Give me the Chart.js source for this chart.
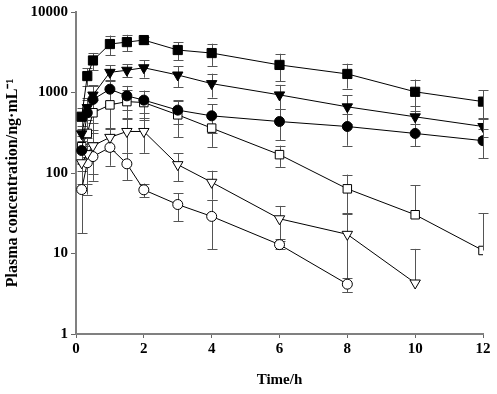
<!DOCTYPE html>
<html>
<head>
<meta charset="utf-8">
<script src="https://cdn.jsdelivr.net/npm/chart.js@4"></script>
<style>
  body { margin: 0; background: #fff; }
  canvas { display: block; }
</style>
</head>
<body>
<canvas id="pk-chart" width="497" height="394"></canvas>
<script>
'use strict';

// sampling times (h)
const times = [0.167, 0.333, 0.5, 1, 1.5, 2, 3, 4, 6, 8, 10, 12];

// mean plasma concentrations (ng/mL), null = not measured / below limit
const filledSquare   = [500, 1600, 2500, 4000, 4230, 4480, 3370, 3090, 2200, 1700, 1020, 770];
const filledTriangle = [307, 650, 930, 1780, 1890, 2030, 1650, 1290, 934, 664, 499, 378];
const filledCircle   = [190, 560, 820, 1100, 908, 804, 604, 513, 436, 378, 310, 252];
const openSquare     = [212, 310, 560, 702, 771, 750, 528, 361, 169, 63.6, 30.3, 10.9];
const openTriangle   = [134, 174, 218, 277, 328, 328, 127, 76.7, 27, 17.3, 4.3, null];
const openCircle     = [62.3, 134, 160, 208, 130, 61.8, 40.6, 28.9, 12.9, 4.16, null, null];

// standard deviations
const filledSquareSd   = [150, 400, 600, 1100, 980, 450, 850, 950, 830, 580, 430, 300];
const filledTriangleSd = [80, 200, 300, 410, 350, 500, 480, 425, 310, 260, 180, 100];
const filledCircleSd   = [60, 250, 400, 350, 300, 250, 200, 200, 180, 160, 95, 100];
const openSquareSd     = [80, 150, 250, 350, 300, 300, 250, 150, 50, 32, 40, 20.5];
const openTriangleSd   = [60, 100, 120, 90, 150, 150, 48, 30, 12, 14, 7.1, null];
const openCircleSd     = [44.5, 80, 80, 85, 48, 12, 15.5, 17.6, 1.5, 0.8, null, null];

const yTicks = [1, 10, 100, 1000, 10000];
const xTicks = [0, 2, 4, 6, 8, 10, 12];

const serif = '"Liberation Serif", "Times New Roman", serif';

let toPoints = (vals) => times.map((t, i) => ({x: t, y: vals[i]})).filter(p => p.y != null);

let makeSet = (vals, sds, style, filled, radius, rotation) => ({
    data: toPoints(vals),
    sd: sds,
    borderColor: '#000',
    borderWidth: 1,
    pointStyle: style,
    pointRadius: radius,
    pointRotation: rotation || 0,
    pointBackgroundColor: filled ? '#000' : '#fff',
    pointBorderColor: '#000',
    pointBorderWidth: 1,
    tension: 0,
    fill: false
});

// draws mean ± SD bars using the chart's own scales
const errorBars = {
    id: 'errorBars',
    beforeDatasetsDraw(chart) {
        const ctx = chart.ctx;
        const xs = chart.scales.x, ys = chart.scales.y;
        const area = chart.chartArea;
        ctx.save();
        ctx.strokeStyle = '#555';
        ctx.lineWidth = 1;
        chart.data.datasets.forEach(ds => {
            ds.data.forEach(p => {
                const sd = ds.sd[times.indexOf(p.x)];
                if (sd == null) return;
                const px = Math.round(xs.getPixelForValue(p.x)) + 0.5;
                const top = Math.max(area.top, ys.getPixelForValue(p.y + sd));
                const lo = p.y - sd;
                const bottom = lo > 0 ? Math.min(area.bottom, ys.getPixelForValue(lo)) : ys.getPixelForValue(p.y);
                ctx.beginPath();
                ctx.moveTo(px, top);
                ctx.lineTo(px, bottom);
                ctx.moveTo(px - 5, Math.round(top) + 0.5);
                ctx.lineTo(px + 5, Math.round(top) + 0.5);
                if (lo > 0) {
                    ctx.moveTo(px - 5, Math.round(bottom) + 0.5);
                    ctx.lineTo(px + 5, Math.round(bottom) + 0.5);
                }
                ctx.stroke();
            });
        });
        ctx.restore();
    }
};

new Chart(document.getElementById('pk-chart'), {
    type: 'line',
    data: {
        datasets: [
            makeSet(filledSquare, filledSquareSd, 'rect', true, 6.5),
            makeSet(filledTriangle, filledTriangleSd, 'triangle', true, 6, 180),
            makeSet(filledCircle, filledCircleSd, 'circle', true, 5),
            makeSet(openSquare, openSquareSd, 'rect', false, 6),
            makeSet(openTriangle, openTriangleSd, 'triangle', false, 6, 180),
            makeSet(openCircle, openCircleSd, 'circle', false, 5)
        ]
    },
    options: {
        responsive: false,
        animation: false,
        devicePixelRatio: 1,
        layout: {
            padding: {top: 11, right: 14, bottom: 0, left: 0}
        },
        scales: {
            x: {
                type: 'linear',
                min: 0,
                max: 12,
                afterBuildTicks: (scale) => { scale.ticks = xTicks.map(v => ({value: v})); },
                afterFit: (scale) => { scale.height = 60; },
                ticks: {
                    color: '#000',
                    padding: 2,
                    font: {family: serif, size: 15, weight: 'bold'}
                },
                grid: {
                    drawOnChartArea: false,
                    drawTicks: true,
                    tickLength: 4,
                    color: '#666'
                },
                border: {color: '#808080', width: 2},
                title: {
                    display: true,
                    text: 'Time/h',
                    color: '#000',
                    padding: {top: 5, bottom: 5},
                    font: {family: serif, size: 15, weight: 'bold'}
                }
            },
            y: {
                type: 'logarithmic',
                min: 1,
                max: 10000,
                afterBuildTicks: (scale) => { scale.ticks = yTicks.map(v => ({value: v})); },
                afterFit: (scale) => { scale.width = 76; },
                ticks: {
                    color: '#000',
                    padding: 3,
                    callback: (v) => String(v),
                    font: {family: serif, size: 15, weight: 'bold'}
                },
                grid: {
                    drawOnChartArea: false,
                    drawTicks: true,
                    tickLength: 5,
                    color: '#666'
                },
                border: {color: '#808080', width: 2},
                title: {
                    display: true,
                    // trailing spaces nudge the centred label down a little, as in the original
                    text: 'Plasma concentration/ng·mL⁻¹     ',
                    color: '#000',
                    padding: {top: 3, bottom: 3},
                    font: {family: serif, size: 16, weight: 'bold'}
                }
            }
        },
        plugins: {
            legend: {display: false},
            tooltip: {enabled: false}
        }
    },
    plugins: [errorBars]
});
</script>
</body>
</html>
